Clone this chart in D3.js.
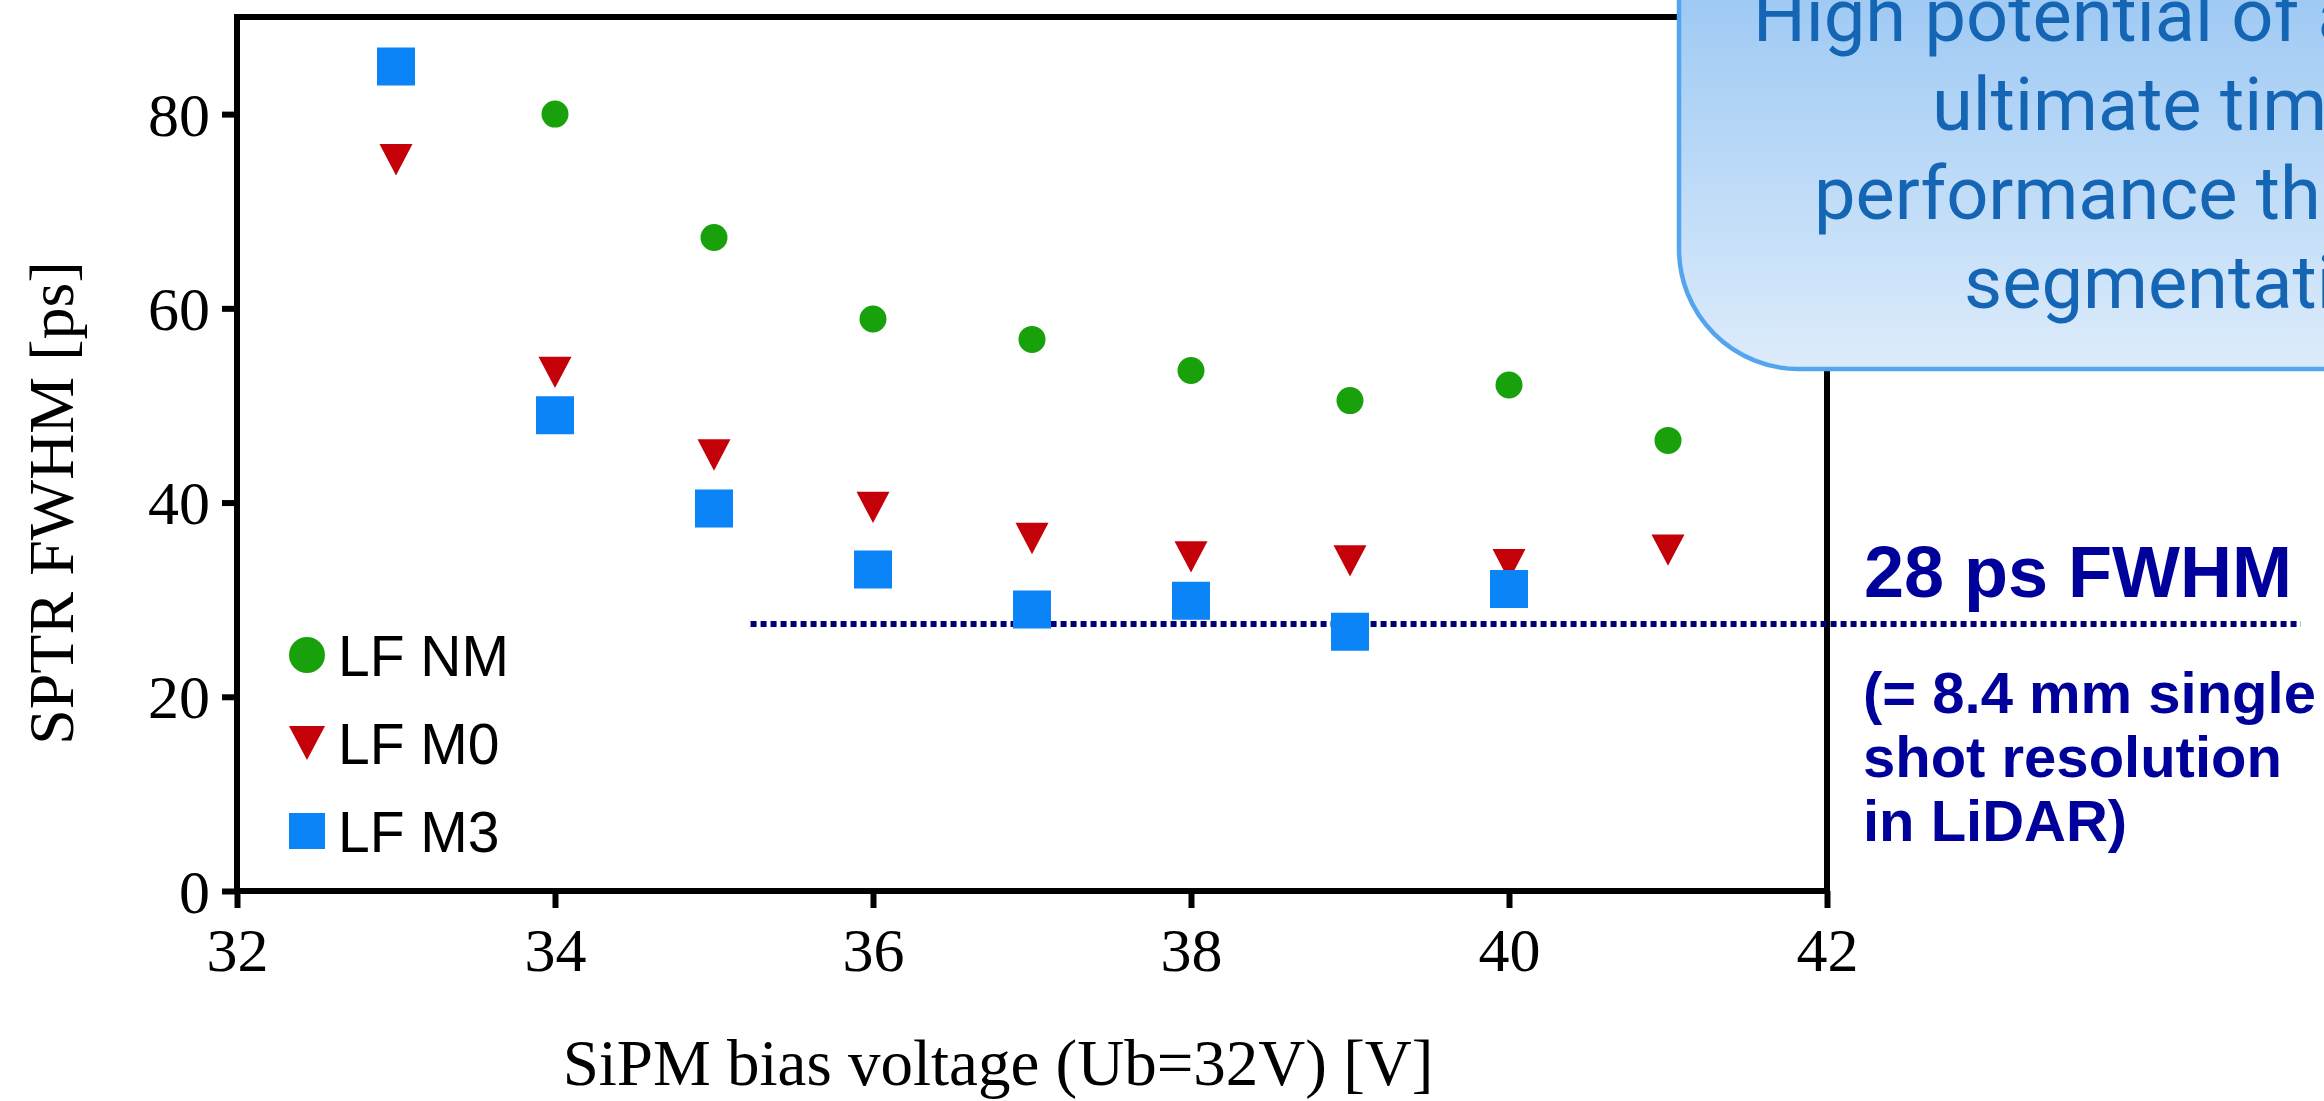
<!DOCTYPE html>
<html><head><meta charset="utf-8">
<script src="https://cdn.jsdelivr.net/npm/d3@7"></script>
<style>html,body{margin:0;padding:0;background:#fff;overflow:hidden}</style>
</head><body><svg id="chart" width="2324" height="1101"></svg>
<script>
// ---- data ----
const voltages = [33, 34, 35, 36, 37, 38, 39, 40, 41];
const seriesNames = ["LF NM", "LF M0", "LF M3"];
const lfNM = [null, 80.0, 67.3, 58.9, 56.8, 53.6, 50.5, 52.1, 46.4];
const lfM0 = [75.3, 53.4, 44.9, 39.5, 36.3, 34.4, 34.0, 33.6, 35.1];
const lfM3 = [84.9, 49.0, 39.4, 33.1, 29.0, 29.9, 26.7, 31.1, null];
const xTicks = [32, 34, 36, 38, 40, 42];
const yTicks = [0, 20, 40, 60, 80];
const xDomain = [32, 42];
const yDomain = [0, 90];
const refLevel = 27.5;
const refSpan = [35.23, 44.98];
const xTitle = "SiPM bias voltage (Ub=32V) [V]";
const yTitle = "SPTR FWHM [ps]";
const refTitle = "28 ps FWHM";
const refNote = ["(= 8.4 mm single", "shot resolution", "in LiDAR)"];
const boxLines = ["High potential of an", "ultimate timing", "performance through", "segmentation"];

// ---- setup ----
const svg = d3.select("#chart");
const x = d3.scaleLinear().domain(xDomain).range([237, 1827]);
const y = d3.scaleLinear().domain(yDomain).range([891, 17]);

const colors = { "LF NM": "#18a10a", "LF M0": "#c40008", "LF M3": "#0a84f7" };

const invTriangle = {
  draw(ctx, size) {
    const w = Math.sqrt(size);
    const h = w * 0.95;
    ctx.moveTo(-w / 2, -h / 2);
    ctx.lineTo(w / 2, -h / 2);
    ctx.lineTo(0, h / 2);
    ctx.closePath();
  }
};
const shapes = { "LF NM": d3.symbolCircle, "LF M0": invTriangle, "LF M3": d3.symbolSquare };
function symSize(name, px) {
  if (name === "LF NM") return Math.PI * (px / 2) * (px / 2);
  return px * px;
}
const dataPx = { "LF NM": 27, "LF M0": 33, "LF M3": 38 };
const legendPx = 36;

// ---- frame ----
svg.append("rect")
  .attr("x", x(xDomain[0])).attr("y", y(yDomain[1]))
  .attr("width", x(xDomain[1]) - x(xDomain[0]))
  .attr("height", y(yDomain[0]) - y(yDomain[1]))
  .attr("fill", "none").attr("stroke", "#000").attr("stroke-width", 6);

// ---- axes ----
const serif = "'Liberation Serif', 'Times New Roman', serif";
const xAxis = svg.append("g").attr("transform", `translate(0,${y(0)})`)
  .call(d3.axisBottom(x).tickValues(xTicks).tickSize(17).tickSizeOuter(0).tickPadding(19).tickFormat(d3.format("d")));
const yAxis = svg.append("g").attr("transform", `translate(${x(32)},0)`)
  .call(d3.axisLeft(y).tickValues(yTicks).tickSize(15).tickSizeOuter(0).tickPadding(12).tickFormat(d3.format("d")));
[xAxis, yAxis].forEach(a => {
  a.select(".domain").remove();
  a.selectAll(".tick line").attr("stroke", "#000").attr("stroke-width", 6);
  a.selectAll(".tick text").attr("font-family", serif).attr("font-size", 62).attr("fill", "#000");
});
xAxis.selectAll(".tick text").attr("dy", "0.71em");
yAxis.selectAll(".tick text").attr("dy", "0.34em");

svg.append("text")
  .attr("x", (x(32) + x(42)) / 2 - 34).attr("y", 1085)
  .attr("text-anchor", "middle")
  .attr("font-family", serif).attr("font-size", 65)
  .text(xTitle);
svg.append("text")
  .attr("transform", "translate(73,503) rotate(-90)")
  .attr("text-anchor", "middle")
  .attr("font-family", serif).attr("font-size", 64)
  .text(yTitle);

// ---- reference line ----
svg.append("line")
  .attr("x1", x(refSpan[0])).attr("x2", x(refSpan[1]))
  .attr("y1", y(refLevel)).attr("y2", y(refLevel))
  .attr("stroke", "#00007a").attr("stroke-width", 6)
  .attr("stroke-dasharray", "6,4");

// ---- points ----
const seriesData = [lfNM, lfM0, lfM3];
seriesNames.forEach((name, i) => {
  const pts = voltages.map((v, j) => ({ v, val: seriesData[i][j] })).filter(d => d.val != null);
  svg.append("g").selectAll("path").data(pts).join("path")
    .attr("transform", d => `translate(${x(d.v)},${y(d.val)})`)
    .attr("d", d3.symbol().type(shapes[name]).size(symSize(name, dataPx[name])))
    .attr("fill", colors[name]);
});

// ---- legend ----
const sans = "'Liberation Sans', Arial, sans-serif";
const legend = svg.append("g").attr("transform", "translate(307,655)");
seriesNames.forEach((name, i) => {
  const g = legend.append("g").attr("transform", `translate(0,${i * 88})`);
  g.append("path")
    .attr("d", d3.symbol().type(shapes[name]).size(symSize(name, legendPx)))
    .attr("fill", colors[name]);
  g.append("text").attr("x", 31).attr("dy", "0.36em")
    .attr("font-family", sans).attr("font-size", 57).attr("fill", "#000")
    .text(name);
});

// ---- right annotation ----
const navy = "#00009a";
svg.append("text").attr("x", 1864).attr("y", 597)
  .attr("font-family", sans).attr("font-weight", "bold").attr("font-size", 72)
  .attr("fill", navy).text(refTitle);
const note = svg.append("text").attr("font-family", sans).attr("font-weight", "bold")
  .attr("font-size", 58).attr("fill", navy);
refNote.forEach((t, i) => note.append("tspan").attr("x", 1863).attr("y", 713 + i * 64).text(t));

// ---- callout box ----
const defs = svg.append("defs");
const grad = defs.append("linearGradient").attr("id", "boxGrad").attr("x1", 0).attr("y1", 0).attr("x2", 0).attr("y2", 1);
grad.append("stop").attr("offset", "0%").attr("stop-color", "#86bcf1");
grad.append("stop").attr("offset", "100%").attr("stop-color", "#ddecfb");
svg.append("rect")
  .attr("x", 1679).attr("y", -150).attr("width", 900).attr("height", 519)
  .attr("rx", 120).attr("ry", 120)
  .attr("fill", "url(#boxGrad)").attr("stroke", "#55a5ee").attr("stroke-width", 4.5);
const boxText = svg.append("text").attr("font-family", "Roboto, sans-serif")
  .attr("font-size", 74).attr("fill", "#1565b5");
const boxStarts = [1753, 1932, 1814, 1964];
boxLines.forEach((t, i) => boxText.append("tspan").attr("x", boxStarts[i]).attr("y", 41 + i * 89).text(t));
</script>
</body></html>
